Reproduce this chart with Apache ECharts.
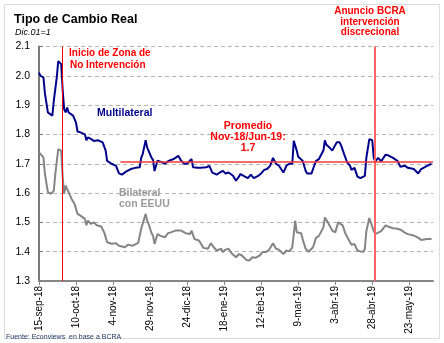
<!DOCTYPE html>
<html><head><meta charset="utf-8">
<script src="https://cdn.jsdelivr.net/npm/echarts@6/dist/echarts.min.js"></script>
<style>html,body{margin:0;padding:0;background:#fff}#c{width:444px;height:343px}</style>
</head><body><div id="c"></div>
<script>
// Days counted from 15-sep-18
const tickDays = [0, 25, 50, 75, 100, 125, 150, 175, 200, 225, 250];
const tickLabels = ['15-sep-18','10-oct-18','4-nov-18','29-nov-18','24-dic-18','18-ene-19','12-feb-19','9-mar-19','3-abr-19','28-abr-19','23-may-19'];
const yTicks = [1.3, 1.4, 1.5, 1.6, 1.7, 1.8, 1.9, 2.0, 2.1];

const multiDays = [0,1,3,4,6,7,9,10,12,13,
  15,16,17,18,19,20,23,25,26,28,
  31,32,33,35,37,40,43,45,46,49,
  52,54,56,59,62,65,68,69,70,72,
  73,74,76,77,78,80,82,85,87,89,
  91,94,96,98,100,103,104,107,109,113,
  115,117,120,122,124,126,128,131,133,135,
  136,139,141,143,145,148,150,152,154,156,
  158,160,162,165,167,169,171,172,174,175,
  176,178,179,180,181,184,185,187,189,190,
  192,193,194,196,198,199,201,203,204,206,
  208,210,211,213,215,217,218,220,221,223,
  225,226,227,229,231,234,236,239,242,244,
  247,249,253,256,258,262,265];
const multiVals = [2.011,2.000,1.995,1.940,1.875,1.872,1.864,1.915,1.995,2.050,
  2.040,1.950,1.886,1.875,1.892,1.875,1.864,1.840,1.810,1.807,
  1.800,1.780,1.790,1.785,1.778,1.780,1.773,1.745,1.710,1.700,
  1.693,1.667,1.663,1.674,1.682,1.686,1.688,1.720,1.733,1.780,
  1.756,1.753,1.720,1.713,1.675,1.710,1.707,1.700,1.708,1.713,
  1.716,1.727,1.710,1.700,1.700,1.716,1.688,1.686,1.686,1.688,
  1.693,1.670,1.663,1.670,1.676,1.667,1.670,1.659,1.642,1.656,
  1.665,1.656,1.651,1.663,1.651,1.659,1.667,1.679,1.682,1.693,
  1.720,1.700,1.693,1.670,1.693,1.700,1.700,1.778,1.745,1.724,
  1.724,1.710,1.693,1.676,1.667,1.667,1.682,1.710,1.716,1.720,
  1.745,1.780,1.765,1.756,1.745,1.742,1.773,1.773,1.762,1.733,
  1.705,1.693,1.679,1.686,1.656,1.651,1.648,1.659,1.720,1.784,
  1.780,1.720,1.708,1.720,1.708,1.731,1.728,1.720,1.710,1.690,
  1.693,1.686,1.682,1.667,1.682,1.693,1.700];

const bilatDays = [0,1,3,4,6,8,10,11,13,15,
  16,17,18,19,20,22,24,26,28,31,
  32,33,35,37,39,42,44,46,49,52,
  54,58,60,63,67,69,70,72,73,74,
  76,77,78,80,82,85,87,89,92,96,
  99,102,103,105,108,109,111,114,116,118,
  120,123,124,126,128,130,133,135,137,140,
  142,144,146,149,151,153,155,158,160,162,
  165,167,169,171,173,174,175,177,178,180,
  182,185,187,189,190,192,193,195,196,198,
  200,202,203,205,207,210,211,213,215,217,
  219,220,221,223,224,226,227,229,231,234,
  236,239,242,244,247,249,253,256,258,262,
  265];
const bilatVals = [1.739,1.733,1.722,1.665,1.603,1.597,1.608,1.665,1.750,1.744,
  1.654,1.597,1.625,1.614,1.603,1.580,1.563,1.529,1.523,1.512,
  1.490,1.506,1.495,1.500,1.490,1.486,1.466,1.432,1.427,1.429,
  1.420,1.415,1.424,1.420,1.430,1.478,1.483,1.529,1.506,1.495,
  1.463,1.454,1.426,1.460,1.454,1.449,1.463,1.466,1.472,1.472,
  1.463,1.460,1.472,1.443,1.438,1.432,1.413,1.410,1.429,1.415,
  1.404,1.410,1.399,1.407,1.410,1.395,1.381,1.392,1.387,1.372,
  1.370,1.381,1.379,1.387,1.399,1.399,1.404,1.429,1.410,1.407,
  1.392,1.404,1.401,1.415,1.506,1.466,1.463,1.463,1.443,1.410,
  1.400,1.415,1.447,1.454,1.460,1.483,1.517,1.500,1.497,1.472,
  1.466,1.500,1.500,1.490,1.460,1.432,1.424,1.426,1.404,1.401,
  1.400,1.410,1.470,1.515,1.520,1.470,1.460,1.465,1.470,1.490,
  1.485,1.480,1.478,1.475,1.465,1.460,1.455,1.448,1.440,1.443,
  1.443];

const eventDays = [16, 227];        // Inicio zona de no intervención, Anuncio BCRA
const avgValue = 1.707;             // Promedio Nov-18/Jun-19
const avgSpan = [55, 266];

function zip(a, b) { const out = []; for (let i = 0; i < Math.min(a.length, b.length); i++) out.push([a[i], b[i]]); return out; }

const chart = echarts.init(document.getElementById('c'), null, {renderer: 'canvas'});
const FF = '"Liberation Sans", Arial, sans-serif';
const txt = (text, x, y, color, size, align, weight, style) => ({
  type: 'text', x: x, y: y, silent: true, z: 100,
  style: { text: text, fill: color, font: (style || 'normal') + ' ' + (weight || 'bold') + ' ' + size + 'px ' + FF, align: align || 'left', verticalAlign: 'middle' }
});

chart.setOption({
  animation: false,
  backgroundColor: '#fff',
  grid: { left: 39, right: 11, top: 46.5, bottom: 62, containLabel: false },
  xAxis: {
    type: 'value', min: 0, max: 266,
    axisLine: { show: true, onZero: false, lineStyle: { color: '#868686', width: 2 } },
    axisTick: { show: true, customValues: tickDays, length: 4, lineStyle: { color: '#868686', width: 1 } },
    axisLabel: { customValues: tickDays, rotate: 90, margin: 5, fontSize: 10, fontFamily: FF, color: '#000',
      formatter: v => { const i = tickDays.indexOf(Math.round(v)); return i >= 0 ? tickLabels[i] : ''; } },
    splitLine: { show: false }
  },
  yAxis: {
    type: 'value', min: yTicks[0], max: yTicks[yTicks.length - 1], interval: 0.1,
    axisLine: { show: true, lineStyle: { color: '#7a7a7a', width: 2 } },
    axisTick: { show: true, inside: true, length: 4, lineStyle: { color: '#7a7a7a' } },
    axisLabel: { margin: 9, fontSize: 10.5, fontFamily: FF, color: '#000', formatter: v => v.toFixed(1) },
    splitLine: { show: true, lineStyle: { color: '#b4b4b4', type: [4, 3], width: 1 } }
  },
  series: [
    { type: 'line', name: 'Bilateral con EEUU', data: zip(bilatDays, bilatVals), showSymbol: false, symbol: 'none',
      lineStyle: { color: '#858585', width: 2 }, z: 2 },
    { type: 'line', name: 'Multilateral', data: zip(multiDays, multiVals), showSymbol: false, symbol: 'none',
      lineStyle: { color: '#00008c', width: 2 }, z: 3,
      markLine: { silent: true, symbol: ['none', 'none'], label: { show: false }, z: 4,
        lineStyle: { color: '#f03c3c', width: 1.5, type: 'solid' },
        data: [
          { xAxis: eventDays[0], lineStyle: { color: '#ff0000', width: 1, type: 'solid' } },
          { xAxis: eventDays[1], lineStyle: { color: '#ff6464', width: 2, type: 'solid' } },
          [ { coord: [avgSpan[0], avgValue] }, { coord: [avgSpan[1], avgValue] } ]
        ] } }
  ],
  graphic: [
    { type: 'rect', silent: true, shape: { x: 4.5, y: 4.5, width: 435, height: 334 }, style: { fill: null, stroke: '#dcdcdc', lineWidth: 1 } },
    txt('Tipo de Cambio Real', 14, 20, '#000', 12.5, 'left', 'bold'),
    txt('Dic.01=1', 15, 32, '#000', 9, 'left', 'normal', 'italic'),
    txt('Inicio de Zona de', 69, 53.5, '#ff0000', 10, 'left'),
    txt('No Intervención', 70, 65.5, '#ff0000', 10, 'left'),
    txt('Anuncio BCRA', 370, 11.5, '#ff0000', 10, 'center'),
    txt('intervención', 370, 22, '#ff0000', 10, 'center'),
    txt('discrecional', 370, 32, '#ff0000', 10, 'center'),
    txt('Multilateral', 97, 113, '#00008c', 10.5, 'left'),
    txt('Promedio', 248, 126, '#ff0000', 10.5, 'center'),
    txt('Nov-18/Jun-19:', 248, 137, '#ff0000', 10.5, 'center'),
    txt('1.7', 248, 148, '#ff0000', 10.5, 'center'),
    txt('Bilateral', 119, 193, '#9a9a9a', 10.5, 'left'),
    txt('con EEUU', 119, 204.5, '#9a9a9a', 10.5, 'left'),
    txt('Fuente: Econviews  en base a BCRA', 6, 337, '#1f3864', 7, 'left', 'normal')
  ]
});
</script>
</body></html>
